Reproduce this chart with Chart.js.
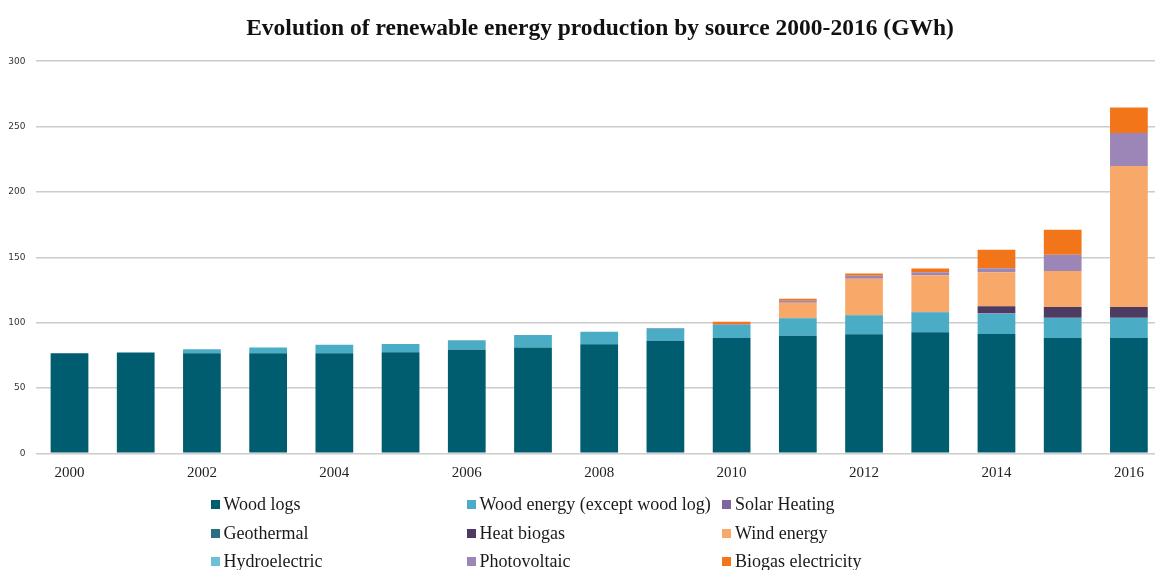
<!DOCTYPE html>
<html>
<head>
<meta charset="utf-8">
<script src="https://cdn.jsdelivr.net/npm/chart.js@4.4.1/dist/chart.umd.min.js"></script>
<style>
    body { margin: 0; background: #fff; overflow: hidden; }
    #wrap { position: relative; width: 1155px; height: 570px; overflow: hidden; }
    #title { position: absolute; left: 0; top: 12px; width: 1200px; text-align: center; font-family: "Liberation Serif", serif; font-weight: bold; font-size: 23.5px; line-height: 30px; color: #111; white-space: nowrap; }
    #legend { position: absolute; left: 0; top: 0; width: 1155px; height: 570px; pointer-events: none; }
    .item { position: absolute; font-family: "Liberation Serif", serif; font-size: 18px; color: #1a1a1a; white-space: nowrap; line-height: 20px; }
    .box { display: inline-block; width: 9px; height: 9px; margin-right: 4px; vertical-align: 1px; }
</style>
</head>
<body>
<div id="wrap">
    <canvas id="energyChart" width="1162" height="570"></canvas>
    <div id="title">Evolution of renewable energy production by source 2000-2016 (GWh)</div>
    <div id="legend"></div>
</div>
<script>
// years on the x axis
const years = ['2000', '2001', '2002', '2003', '2004', '2005', '2006', '2007', '2008',
    '2009', '2010', '2011', '2012', '2013', '2014', '2015', '2016'];

// production by source (GWh)
const woodLogs = [76.6, 77.1, 76.6, 76.6, 76.6, 77.4, 79.2, 81.0, 83.5, 86.2, 88.2, 90.0, 91.0, 92.6, 91.3, 88.2, 88.2];
const woodEnergy = [0, 0, 3.1, 4.3, 6.4, 6.3, 7.3, 9.6, 9.5, 9.2, 10.0, 13.3, 14.6, 15.3, 15.5, 15.3, 15.3];
const solarHeating = [0, 0, 0, 0, 0, 0, 0, 0, 0, 0.4, 0.3, 0.3, 0.3, 0.3, 0.3, 0.3, 0.3];
const geothermal = [0, 0, 0, 0, 0, 0, 0, 0, 0, 0, 0, 0, 0, 0, 0, 0, 0];
const heatBiogas = [0, 0, 0, 0, 0, 0, 0, 0, 0, 0, 0, 0, 0, 0, 5.4, 8.2, 8.2];
const windEnergy = [0, 0, 0, 0, 0, 0, 0, 0, 0, 0, 0.2, 11.6, 27.6, 28.1, 26.0, 27.5, 107.9];
const hydroelectric = [0, 0, 0, 0, 0, 0, 0, 0, 0, 0, 0, 0, 0, 0, 0, 0, 0];
const photovoltaic = [0, 0, 0, 0, 0, 0, 0, 0, 0, 0, 0.2, 1.6, 2.3, 2.3, 3.0, 12.5, 25.2];
const biogasElectricity = [0, 0, 0, 0, 0, 0, 0, 0, 0, 0, 1.8, 1.5, 1.7, 2.7, 14.3, 19.1, 19.4];

// y axis ticks
const yTicks = [0, 50, 100, 150, 200, 250, 300];

const seriesNames = ['Wood logs', 'Wood energy (except wood log)', 'Solar Heating',
    'Geothermal', 'Heat biogas', 'Wind energy',
    'Hydroelectric', 'Photovoltaic', 'Biogas electricity'];
const seriesData = [woodLogs, woodEnergy, solarHeating, geothermal, heatBiogas,
    windEnergy, hydroelectric, photovoltaic, biogasElectricity];
const seriesColors = ['#005d70', '#4bacc6', '#8064a2', '#2b6f80', '#4e3b62',
    '#f8a96a', '#6cc1d5', '#9b86b7', '#f27619'];

const ctx = document.getElementById('energyChart');
new Chart(ctx, {
    type: 'bar',
    data: {
        labels: years,
        datasets: seriesNames.map((name, i) => ({
            label: name,
            data: seriesData[i],
            backgroundColor: seriesColors[i],
            borderWidth: 0,
            barPercentage: 0.57,
            categoryPercentage: 1
        }))
    },
    options: {
        responsive: false,
        animation: false,
        layout: { padding: { left: 0, right: 0, top: 61.2, bottom: 0 } },
        plugins: {
            legend: { display: false },
            tooltip: { enabled: false }
        },
        scales: {
            x: {
                stacked: true,
                grid: { display: false },
                border: { display: false },
                ticks: {
                    color: '#222',
                    font: { family: 'Liberation Serif', size: 15 },
                    padding: 3,
                    maxRotation: 0,
                    autoSkip: false,
                    callback: (value, index) => (index % 2 === 0 ? years[index] : '')
                },
                afterFit: (scale) => { scale.height = 116.7; }
            },
            y: {
                stacked: true,
                min: 0,
                max: 300,
                afterBuildTicks: (scale) => { scale.ticks = yTicks.map(v => ({ value: v })); },
                grid: { color: '#cccccc', lineWidth: 1.5, drawTicks: false },
                border: { display: false },
                ticks: {
                    color: '#333',
                    font: { family: 'DejaVu Sans', size: 9 },
                    padding: 11
                },
                afterFit: (scale) => { scale.width = 36.4; }
            }
        }
    }
});

// legend as html, three columns by three rows
const legend = document.getElementById('legend');
const colX = [210.5, 466.5, 722];
const rowY = [494, 523, 551];
seriesNames.forEach((name, i) => {
    const item = document.createElement('div');
    item.className = 'item';
    item.style.left = colX[i % 3] + 'px';
    item.style.top = rowY[Math.floor(i / 3)] + 'px';
    const box = document.createElement('span');
    box.className = 'box';
    box.style.background = seriesColors[i];
    item.appendChild(box);
    item.appendChild(document.createTextNode(name));
    legend.appendChild(item);
});
</script>
</body>
</html>
